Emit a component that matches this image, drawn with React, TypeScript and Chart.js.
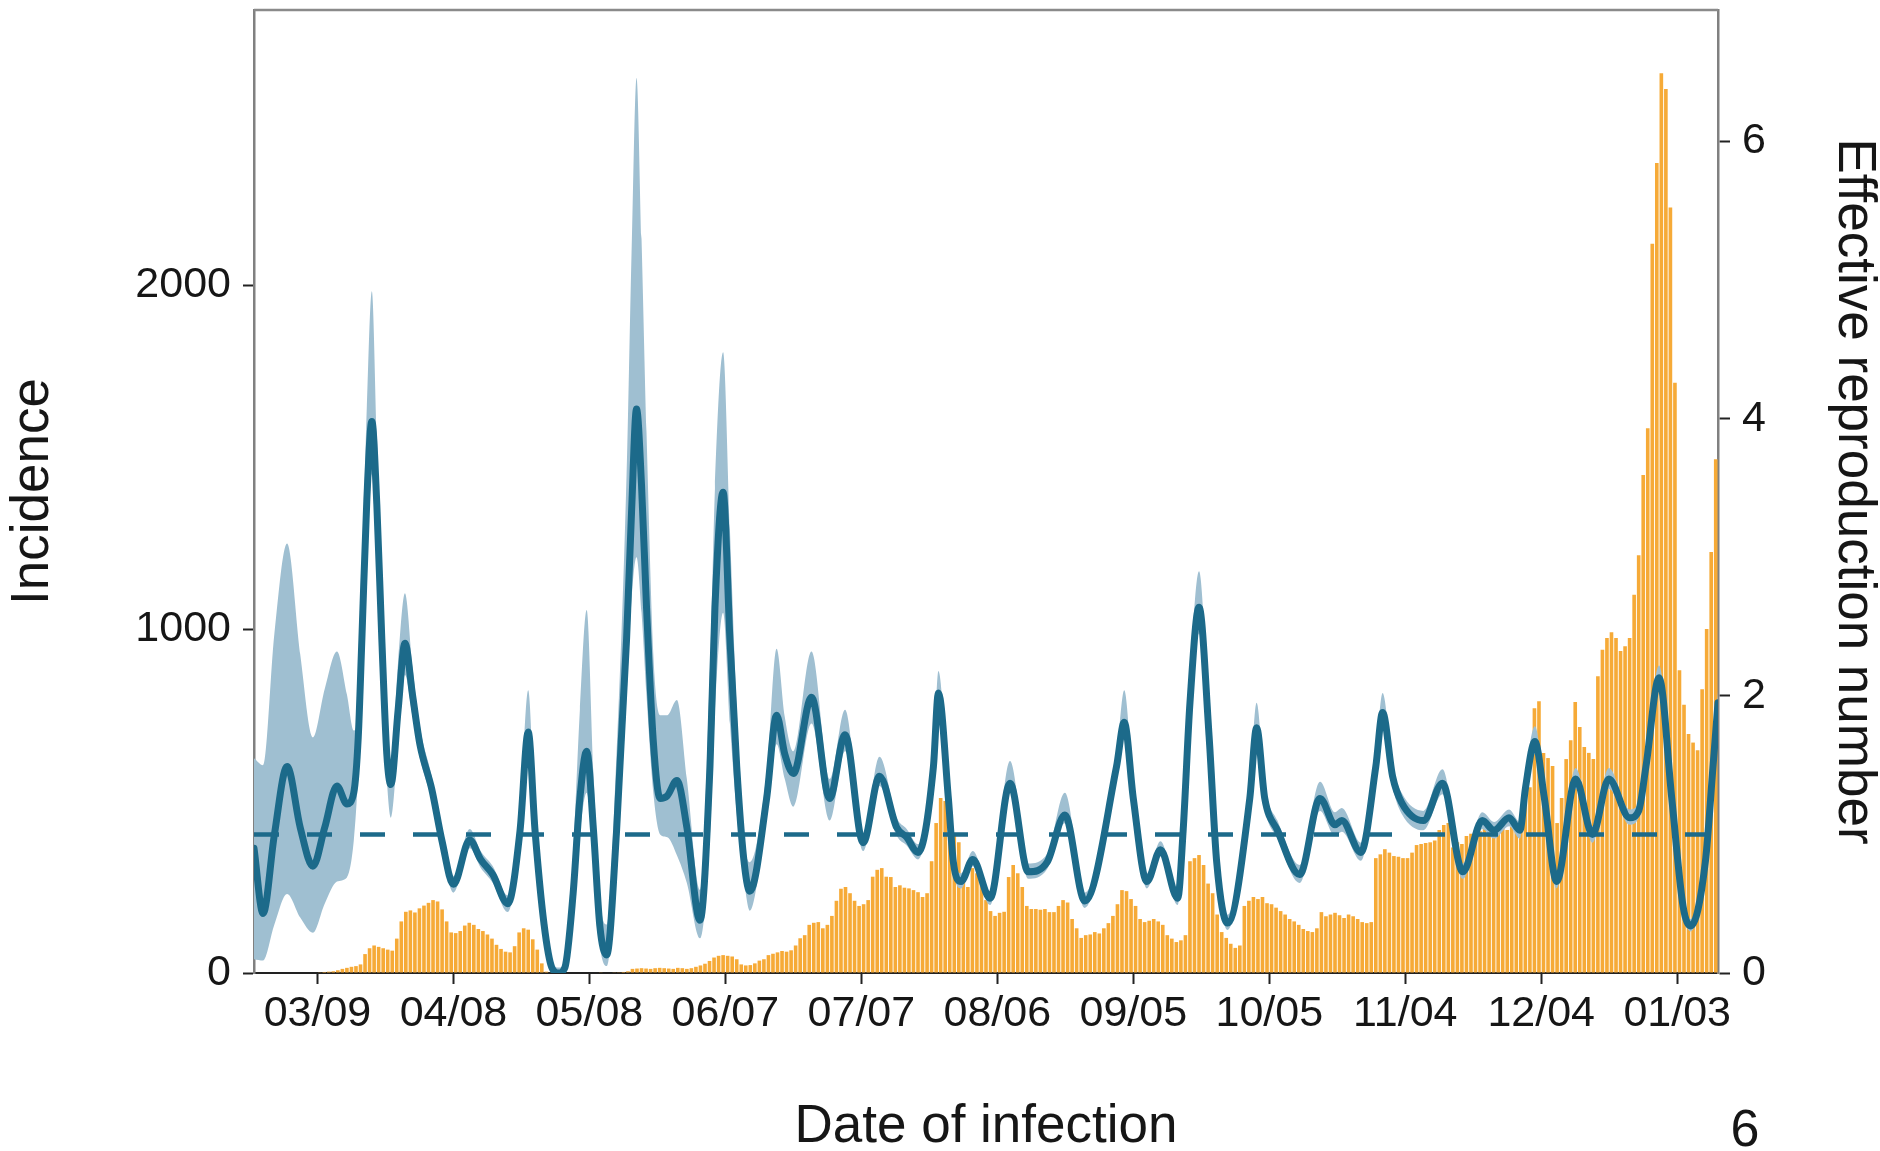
import React, { useEffect, useRef } from 'react';
import { Chart, registerables } from 'chart.js';

Chart.register(...registerables);

// Day index 0 = 2020-02-24; x axis spans day 0 .. 323
const X_MIN = 0;
const X_MAX = 323;
const TICK_DAYS = [14, 44, 74, 104, 134, 164, 194, 224, 254, 284, 314];
const TICK_LABELS = ['03/09', '04/08', '05/08', '06/07', '07/07', '08/06', '09/05', '10/05', '11/04', '12/04', '01/03'];

const LEFT_TICKS = [0, 1000, 2000];
const LEFT_MAX = 2800;
const RIGHT_TICKS = [0, 2, 4, 6];
const RIGHT_MAX = 6.95;
const RT_THRESHOLD = 1;

// Daily incidence by date of infection (one value per day from 02/24)
const INCIDENCE = [
  0, 0, 0, 0, 0, 0, 0, 0, 0, 0,
  0, 0, 0, 0, 2, 3, 4, 5, 8, 12,
  15, 18, 20, 25, 55, 72, 80, 76, 72, 68,
  65, 100, 150, 178, 182, 176, 188, 196, 204, 212,
  208, 185, 150, 118, 116, 122, 138, 146, 140, 128,
  122, 112, 100, 82, 70, 62, 60, 78, 118, 130,
  126, 98, 68, 28, 4, 0, 0, 0, 0, 0,
  0, 0, 0, 0, 0, 0, 1, 0, 0, 1,
  2, 3, 5, 12, 13, 14, 13, 12, 14, 15,
  14, 13, 12, 15, 14, 12, 14, 18, 22, 27,
  35, 45, 50, 52, 50, 48, 40, 25, 22, 23,
  28, 36, 40, 52, 56, 60, 64, 62, 66, 80,
  101, 110, 140, 146, 148, 130, 140, 166, 210, 245,
  250, 232, 210, 195, 200, 212, 280, 300, 305, 280,
  279, 250, 255, 248, 246, 241, 235, 221, 232, 325,
  436, 509, 500, 436, 400, 380, 288, 250, 305, 290,
  279, 212, 180, 166, 175, 178, 279, 314, 290, 250,
  195, 186, 186, 184, 186, 177, 177, 195, 212, 205,
  157, 130, 102, 110, 112, 119, 115, 130, 145, 166,
  200, 241, 238, 215, 195, 157, 148, 152, 157, 150,
  140, 110, 100, 90, 95, 110, 325, 334, 343, 314,
  260, 232, 170, 119, 102, 85, 73, 80, 195, 210,
  221, 215, 221, 203, 200, 190, 180, 170, 157, 150,
  140, 128, 122, 119, 130, 177, 165, 170, 175, 168,
  160, 170, 165, 157, 148, 145, 148, 334, 345, 360,
  350, 340, 338, 334, 334, 350, 372, 375, 378, 380,
  385, 416, 430, 436, 365, 380, 375, 398, 405, 416,
  412, 420, 430, 425, 436, 430, 416, 425, 440, 453,
  529, 540, 770, 790, 640, 625, 602, 436, 509, 622,
  677, 788, 715, 657, 640, 622, 863, 940, 974, 991,
  974, 936, 950, 974, 1100, 1215, 1448, 1584, 2120, 2355,
  2616, 2570, 2226, 1716, 880, 780, 695, 670, 648, 825,
  1000, 1224, 1494,
];

// Effective reproduction number (mean and credible interval), sampled at day positions
const RT_DAYS = [
  0.0, 2.0, 4.5, 7.3, 10.2, 13.0, 15.6, 18.3, 20.5, 22.0,
  23.0, 23.8, 24.9, 26.0, 27.1, 28.2, 29.3, 30.2, 31.8, 33.3,
  35.0, 36.6, 39.2, 41.5, 44.0, 47.6, 50.0, 52.7, 56.0, 58.7,
  60.5, 62.0, 64.0, 65.7, 67.2, 68.6, 70.4, 71.9, 73.4, 74.9,
  76.3, 77.8, 80.0, 82.2, 83.3, 84.4, 85.5, 86.6, 88.1, 89.6,
  91.2, 93.3, 95.5, 98.4, 100.6, 101.7, 103.5, 105.0, 106.5, 108.0,
  109.4, 113.1, 115.3, 117.1, 119.0, 123.0, 127.0, 130.4, 134.4, 138.0,
  141.8, 144.0, 146.5, 149.9, 151.0, 153.2, 154.3, 156.0, 158.6, 162.4,
  166.8, 170.8, 175.0, 178.9, 183.3, 190.3, 192.0, 194.0, 197.0, 200.0,
  203.8, 205.0, 206.5, 208.5, 210.7, 212.4, 214.8, 219.7, 221.2, 223.0,
  225.8, 230.7, 235.2, 238.5, 240.0, 244.2, 247.5, 249.0, 251.2, 253.2,
  258.0, 262.2, 266.7, 271.0, 273.6, 276.9, 279.3, 280.5, 282.6, 284.7,
  287.4, 291.6, 295.3, 298.9, 303.5, 305.5, 307.1, 310.0, 312.8, 315.3,
  317.0, 320.2, 321.9, 323.0,
];
const RT_MEAN = [
  0.90, 0.43, 1.00, 1.49, 1.05, 0.77, 1.05, 1.35, 1.22, 1.30,
  1.70, 2.41, 3.42, 3.98, 3.38, 2.41, 1.58, 1.36, 1.90, 2.38,
  2.00, 1.65, 1.33, 0.95, 0.64, 0.96, 0.82, 0.71, 0.50, 1.03,
  1.74, 1.03, 0.35, 0.04, 0.00, 0.04, 0.57, 1.26, 1.60, 1.03,
  0.34, 0.13, 1.03, 2.41, 3.33, 4.07, 3.52, 2.64, 1.67, 1.26,
  1.28, 1.39, 1.05, 0.38, 1.49, 2.64, 3.47, 2.41, 1.49, 0.84,
  0.59, 1.26, 1.86, 1.58, 1.44, 1.99, 1.26, 1.72, 0.94, 1.42,
  1.05, 0.98, 0.87, 1.49, 2.02, 1.26, 0.80, 0.66, 0.82, 0.54,
  1.37, 0.73, 0.80, 1.14, 0.52, 1.49, 1.81, 1.26, 0.66, 0.89,
  0.54, 1.03, 1.95, 2.64, 1.72, 0.80, 0.36, 1.26, 1.77, 1.26,
  1.03, 0.71, 1.26, 1.07, 1.10, 0.87, 1.49, 1.88, 1.42, 1.23,
  1.10, 1.37, 0.73, 1.10, 1.03, 1.12, 1.03, 1.33, 1.67, 1.26,
  0.66, 1.40, 1.00, 1.40, 1.12, 1.17, 1.49, 2.13, 1.26, 0.48,
  0.34, 0.80, 1.49, 1.95,
];
const RT_LOW = [
  0.10, 0.09, 0.35, 0.57, 0.40, 0.29, 0.50, 0.66, 0.69, 0.95,
  1.45, 2.15, 3.10, 3.60, 3.05, 2.20, 1.40, 1.12, 1.65, 2.15,
  1.85, 1.55, 1.25, 0.88, 0.58, 0.90, 0.76, 0.65, 0.44, 0.95,
  1.55, 0.92, 0.28, 0.00, 0.00, 0.00, 0.42, 1.00, 1.30, 0.80,
  0.20, 0.05, 0.80, 2.00, 2.70, 3.00, 2.60, 2.00, 1.30, 1.00,
  0.98, 0.85, 0.65, 0.25, 1.00, 1.90, 2.60, 1.80, 1.15, 0.70,
  0.45, 1.15, 1.65, 1.40, 1.20, 1.80, 1.10, 1.60, 0.88, 1.35,
  0.99, 0.92, 0.82, 1.42, 1.92, 1.20, 0.75, 0.61, 0.77, 0.49,
  1.30, 0.68, 0.75, 1.08, 0.47, 1.43, 1.72, 1.20, 0.61, 0.84,
  0.49, 0.97, 1.85, 2.45, 1.62, 0.75, 0.31, 1.19, 1.68, 1.19,
  0.97, 0.65, 1.17, 0.99, 1.02, 0.81, 1.41, 1.78, 1.34, 1.15,
  1.03, 1.29, 0.68, 1.04, 0.97, 1.06, 0.97, 1.26, 1.58, 1.19,
  0.61, 1.33, 0.94, 1.33, 1.07, 1.12, 1.43, 2.04, 1.20, 0.44,
  0.30, 0.75, 1.43, 1.88,
];
const RT_HIGH = [
  1.55, 1.50, 2.45, 3.10, 2.30, 1.70, 2.05, 2.32, 2.01, 1.75,
  1.90, 2.80, 4.10, 4.92, 3.90, 2.70, 1.75, 1.50, 2.25, 2.74,
  2.20, 1.78, 1.42, 1.02, 0.70, 1.04, 0.88, 0.77, 0.56, 1.15,
  2.04, 1.15, 0.42, 0.08, 0.04, 0.10, 0.85, 1.90, 2.62, 1.45,
  0.55, 0.35, 1.60, 3.60, 5.20, 6.46, 5.30, 3.90, 2.30, 1.86,
  1.86, 1.97, 1.40, 0.60, 2.20, 3.50, 4.48, 3.20, 1.90, 1.00,
  0.80, 1.45, 2.34, 1.85, 1.60, 2.32, 1.40, 1.90, 1.00, 1.56,
  1.12, 1.04, 0.93, 1.58, 2.18, 1.32, 0.86, 0.72, 0.88, 0.59,
  1.53, 0.79, 0.86, 1.30, 0.58, 1.58, 2.04, 1.33, 0.72, 0.95,
  0.60, 1.10, 2.10, 2.90, 1.85, 0.87, 0.42, 1.36, 1.95, 1.35,
  1.10, 0.78, 1.38, 1.16, 1.19, 0.94, 1.58, 2.02, 1.50, 1.30,
  1.17, 1.47, 0.79, 1.16, 1.09, 1.18, 1.09, 1.42, 1.78, 1.34,
  0.72, 1.48, 1.06, 1.48, 1.18, 1.23, 1.56, 2.22, 1.33, 0.53,
  0.39, 0.86, 1.56, 2.03,
];

const TEAL = '#1C6A8A';
const BAND = '#9FBFD1';
const ORANGE = '#F6AA37';
const FONT_FAMILY = '"Liberation Sans", Arial, Helvetica, sans-serif';
const TEXT = '#161616';

const framePlugin = {
  id: 'topFrame',
  afterDraw(chart: any) {
    const { ctx, chartArea } = chart;
    ctx.save();
    ctx.strokeStyle = '#8a8a8a';
    ctx.lineWidth = 2.5;
    ctx.beginPath();
    ctx.moveTo(chartArea.left, chartArea.top);
    ctx.lineTo(chartArea.right, chartArea.top);
    ctx.stroke();
    ctx.restore();
  },
};

export default function App() {
  const ref = useRef<HTMLCanvasElement>(null);

  useEffect(() => {
    if (!ref.current) return;
    const tickFont = { family: FONT_FAMILY, size: 43, lineHeight: 1.2 };
    const titleFont = { family: FONT_FAMILY, size: 53, lineHeight: 0.9 };

    const chart = new Chart(ref.current, {
      type: 'bar',
      data: {
        datasets: [
          {
            type: 'bar',
            label: 'Incidence',
            data: INCIDENCE.map((v, i) => ({ x: i + 0.5, y: v })),
            backgroundColor: ORANGE,
            borderWidth: 0,
            barPercentage: 0.8,
            categoryPercentage: 1,
            xAxisID: 'x',
            yAxisID: 'y',
            order: 4,
          } as any,
          {
            type: 'line',
            label: 'Rt lower',
            data: RT_DAYS.map((d, i) => ({ x: d, y: RT_LOW[i] })),
            borderColor: 'rgba(0,0,0,0)',
            borderWidth: 0,
            pointRadius: 0,
            fill: false,
            cubicInterpolationMode: 'monotone',
            xAxisID: 'x',
            yAxisID: 'y1',
            order: 3,
          },
          {
            type: 'line',
            label: 'Rt upper',
            data: RT_DAYS.map((d, i) => ({ x: d, y: RT_HIGH[i] })),
            borderColor: 'rgba(0,0,0,0)',
            borderWidth: 0,
            pointRadius: 0,
            backgroundColor: BAND,
            fill: '-1',
            cubicInterpolationMode: 'monotone',
            xAxisID: 'x',
            yAxisID: 'y1',
            order: 3,
          },
          {
            type: 'line',
            label: 'Rt = 1',
            data: [
              { x: X_MIN, y: RT_THRESHOLD },
              { x: X_MAX, y: RT_THRESHOLD },
            ],
            borderColor: TEAL,
            borderWidth: 4.5,
            borderDash: [25, 28],
            borderCapStyle: 'butt',
            pointRadius: 0,
            fill: false,
            xAxisID: 'x',
            yAxisID: 'y1',
            order: 2,
          },
          {
            type: 'line',
            label: 'Rt',
            data: RT_DAYS.map((d, i) => ({ x: d, y: RT_MEAN[i] })),
            borderColor: TEAL,
            borderWidth: 7,
            borderJoinStyle: 'round',
            borderCapStyle: 'round',
            pointRadius: 0,
            fill: false,
            cubicInterpolationMode: 'monotone',
            xAxisID: 'x',
            yAxisID: 'y1',
            order: 1,
          },
        ],
      },
      options: {
        animation: false,
        responsive: false,
        devicePixelRatio: 1,
        layout: { padding: { top: 10, left: 0, right: 0, bottom: 0 } },
        plugins: {
          legend: { display: false },
          tooltip: { enabled: false },
        },
        scales: {
          x: {
            type: 'linear',
            position: 'bottom',
            min: X_MIN,
            max: X_MAX,
            offset: false,
            grid: {
              display: true,
              drawOnChartArea: false,
              drawTicks: true,
              tickLength: 11,
              tickWidth: 2,
              tickColor: '#222',
              offset: false,
            },
            border: { display: true, color: '#222', width: 2 },
            ticks: {
              font: tickFont,
              color: TEXT,
              padding: 4,
              maxRotation: 0,
              minRotation: 0,
              autoSkip: false,
              callback: (value: any) => {
                const i = TICK_DAYS.indexOf(Number(value));
                return i >= 0 ? TICK_LABELS[i] : '';
              },
            },
            afterBuildTicks: (scale: any) => {
              scale.ticks = TICK_DAYS.map((v) => ({ value: v }));
            },
            afterFit: (scale: any) => {
              scale.height = 178;
              scale.paddingLeft = 0;
              scale.paddingRight = 0;
            },
            title: {
              display: true,
              text: 'Date of infection',
              font: titleFont,
              color: TEXT,
              padding: { top: 0, bottom: 0 },
            },
          },
          y: {
            type: 'linear',
            position: 'left',
            min: 0,
            max: LEFT_MAX,
            grid: {
              display: true,
              drawOnChartArea: false,
              drawTicks: true,
              tickLength: 11,
              tickWidth: 2,
              tickColor: '#222',
            },
            border: { display: true, color: '#808080', width: 2.5 },
            ticks: {
              font: tickFont,
              color: TEXT,
              padding: 12,
              callback: (value: any) => String(value),
            },
            afterBuildTicks: (scale: any) => {
              scale.ticks = LEFT_TICKS.map((v) => ({ value: v }));
            },
            afterFit: (scale: any) => {
              scale.width = 254;
              scale.paddingTop = 0;
              scale.paddingBottom = 0;
            },
            title: {
              display: true,
              text: 'Incidence',
              font: titleFont,
              color: TEXT,
              padding: { top: 10, bottom: 0 },
            },
          },
          y1: {
            type: 'linear',
            position: 'right',
            min: 0,
            max: RIGHT_MAX,
            grid: {
              display: true,
              drawOnChartArea: false,
              drawTicks: true,
              tickLength: 12,
              tickWidth: 2,
              tickColor: '#222',
            },
            border: { display: true, color: '#808080', width: 2.5 },
            ticks: {
              font: tickFont,
              color: TEXT,
              padding: 12,
              callback: (value: any) => String(value),
            },
            afterBuildTicks: (scale: any) => {
              scale.ticks = RIGHT_TICKS.map((v) => ({ value: v }));
            },
            afterFit: (scale: any) => {
              scale.width = 162;
              scale.paddingTop = 0;
              scale.paddingBottom = 0;
            },
            title: {
              display: true,
              text: 'Effective reproduction number',
              font: titleFont,
              color: TEXT,
              padding: { top: 3, bottom: 0 },
            },
          },
        },
      } as any,
      plugins: [framePlugin],
    });

    return () => chart.destroy();
  }, []);

  return (
    <div
      style={{
        position: 'absolute',
        left: 0,
        top: 0,
        width: 1880,
        height: 1151,
        background: '#ffffff',
        overflow: 'hidden',
      }}
    >
      <canvas
        ref={ref}
        width={1880}
        height={1151}
        style={{ display: 'block', width: 1880, height: 1151 }}
      />
      <div
        style={{
          position: 'absolute',
          left: 1715,
          top: 1102,
          width: 60,
          textAlign: 'center',
          fontFamily: FONT_FAMILY,
          fontSize: 52,
          lineHeight: '52px',
          color: TEXT,
        }}
      >
        6
      </div>
    </div>
  );
}
